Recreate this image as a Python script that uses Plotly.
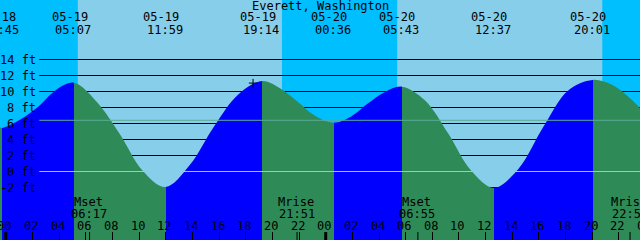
import plotly.graph_objects as go

# ---------------- data ----------------
title = "Everett, Washington"

# tide extremes (label date, label time, height in ft, kind)
tide_dates = ["05-18", "05-19", "05-19", "05-19", "05-20", "05-20", "05-20", "05-20"]
tide_times = ["23:45", "05:07", "11:59", "19:14", "00:36", "05:43", "12:37", "20:01"]
tide_feet = [5.45, 11.1, -1.95, 11.3, 6.1, 10.6, -2.05, 11.45]
tide_kind = ["low", "high", "low", "high", "low", "high", "low", "high"]

# tide curve readings: hours after 05-19 00:00 and height in ft
curve_hours = [-0.45, -0.25, 1.09, 2.43, 3.77, 5.117,
               6.83, 8.55, 10.27, 11.983,
               13.8, 15.61, 17.42, 19.233,
               20.57, 21.92, 23.26, 24.6,
               25.88, 27.16, 28.44, 29.717,
               31.44, 33.17, 34.89, 36.617,
               38.47, 40.32, 42.17, 44.017,
               45.4, 46.6, 47.6]
curve_feet = [5.5, 5.45, 6.5, 8.1, 10.2, 11.1,
              8.7, 4.7, 0.1, -1.95,
              0.8, 5.6, 9.6, 11.3,
              10.4, 8.7, 6.9, 6.1,
              6.85, 8.5, 9.95, 10.6,
              8.9, 4.8, 0.15, -2.05,
              0.35, 5.55, 10.1, 11.45,
              10.9, 9.5, 7.9]

# moon events
moon_dates = ["05-19", "05-19", "05-20", "05-20"]
moon_times = ["06:17", "21:51", "06:55", "22:50"]
moon_events = ["Mset", "Mrise", "Mset", "Mrise"]

# sun (daylight intervals)
sunrise_dates = ["05-19", "05-20"]
sunrise_times = ["05:24", "05:22"]
sunset_dates = ["05-19", "05-20"]
sunset_times = ["20:43", "20:45"]

# "now" marker
now_date, now_time, now_feet = "05-19", "18:33", 11.05

# axis
grid_feet = [14, 12, 10, 8, 6, 4, 2, -2]
label_feet = [14, 12, 10, 8, 6, 4, 2, 0, -2]
datum_feet = 0.0
msl_feet = 6.4
hour_ticks = list(range(0, 50, 2))
hour_labels = ["%02d" % (h % 24) for h in hour_ticks]
midnights = [0, 24]

x_range = [-0.435, 47.58]
y_range = [-8.5625, 21.4375]

# ---------------- styles ----------------
night_sky = "#00BFFF"
day_sky = "#87CEEB"
rise_col = "#0000FF"
fall_col = "#2E8B57"
msl_col = "#5AAA96"
datum_col = "#87CEEB"
font = dict(family="DejaVu Sans Mono", size=12, color="black")
W, H = 640, 240
grid_x0 = 39.3 / W


def to_hours(d, t):
    day = int(d.split("-")[1]) - 19
    hh, mm = t.split(":")
    return day * 24 + int(hh) + int(mm) / 60.0


def xpaper(h):
    return (h - x_range[0]) / (x_range[1] - x_range[0])


tide_hours = [to_hours(d, t) for d, t in zip(tide_dates, tide_times)]
moon_hours = [to_hours(d, t) for d, t in zip(moon_dates, moon_times)]
sunrise_hours = [to_hours(d, t) for d, t in zip(sunrise_dates, sunrise_times)]
sunset_hours = [to_hours(d, t) for d, t in zip(sunset_dates, sunset_times)]
now_hours = to_hours(now_date, now_time)

# rising/falling gradient
g0, g1 = curve_hours[0], curve_hours[-1]
scale = [[0.0, fall_col if tide_kind[0] == "low" else rise_col]]
after = scale[0][1]
for t, k in zip(tide_hours, tide_kind):
    before = fall_col if k == "low" else rise_col
    after = rise_col if k == "low" else fall_col
    p = (t - g0) / (g1 - g0)
    if 0 < p < 1:
        scale.append([p, before])
        scale.append([p, after])
scale.append([1.0, after])

fig = go.Figure()
fig.add_trace(go.Scatter(x=[g0, g1], y=[-20, -20], mode="lines",
                         line=dict(width=0), hoverinfo="skip"))
fig.add_trace(go.Scatter(x=curve_hours, y=curve_feet, mode="lines",
                         line=dict(width=0, shape="spline", smoothing=1.0, color=rise_col),
                         fill="tonexty", fillcolor=rise_col,
                         fillgradient=dict(type="horizontal", colorscale=scale,
                                           start=g0, stop=g1),
                         hoverinfo="skip"))
fig.add_trace(go.Scatter(x=[now_hours], y=[now_feet], mode="markers",
                         marker=dict(symbol="cross-thin", size=6,
                                     line=dict(color="black", width=1)),
                         hoverinfo="skip"))

shapes = []
for a, b in zip(sunrise_hours, sunset_hours):
    shapes.append(dict(type="rect", xref="x", yref="paper", x0=a, x1=b, y0=0, y1=1,
                       fillcolor=day_sky, line=dict(width=0), layer="below"))
for f in grid_feet:
    shapes.append(dict(type="line", xref="paper", yref="y", x0=grid_x0, x1=1, y0=f, y1=f,
                       line=dict(color="black", width=1), layer="between"))
shapes.append(dict(type="line", xref="paper", yref="y", x0=grid_x0, x1=1,
                   y0=msl_feet, y1=msl_feet, line=dict(color=msl_col, width=1), layer="above"))
shapes.append(dict(type="line", xref="paper", yref="y", x0=grid_x0, x1=1,
                   y0=datum_feet, y1=datum_feet, line=dict(color=datum_col, width=1), layer="above"))
for m in midnights:
    shapes.append(dict(type="line", xref="x", yref="paper", x0=m, x1=m, y0=0, y1=8 / H,
                       line=dict(color="black", width=3), layer="above"))
for m in moon_hours:
    shapes.append(dict(type="line", xref="x", yref="paper", x0=m, x1=m, y0=0, y1=8 / H,
                       line=dict(color="black", width=1), layer="above"))

ann = []


def add(x, ypx, text, xref="paper", xanchor="center", xshift=0, yref="paper"):
    ann.append(dict(x=x, y=ypx, xref=xref, yref=yref, text=text, showarrow=False,
                    font=font, xanchor=xanchor, yanchor="middle", xshift=xshift))


add(0.5, 1 - 6 / H, title)
for t, d, s in zip(tide_hours, tide_dates, tide_times):
    add(t, 1 - 17.2 / H, d, xref="x", xshift=-4.5)
    add(t, 1 - 29.5 / H, s, xref="x", xshift=-1)
for t, e, s in zip(moon_hours, moon_events, moon_times):
    add(t, 1 - 202.2 / H, e, xref="x", xshift=-1)
    add(t, 1 - 213.8 / H, s, xref="x", xshift=-0.5)
for h, lab in zip(hour_ticks, hour_labels):
    add(xpaper(h), 1 - 225.5 / H, lab, xshift=-1.5)
for f in label_feet:
    add(37.5 / W, f, "%d ft" % f, xanchor="right", yref="y")

fig.update_layout(
    width=W, height=H, margin=dict(l=0, r=0, t=0, b=0),
    paper_bgcolor=night_sky, plot_bgcolor=night_sky, showlegend=False,
    xaxis=dict(range=x_range, showgrid=False, zeroline=False, showticklabels=False,
               ticks="inside", ticklen=8, tickwidth=1, tickcolor="black",
               tickvals=hour_ticks, showline=False, fixedrange=True),
    yaxis=dict(range=y_range, showgrid=False, zeroline=False, showticklabels=False,
               ticks="", showline=False, fixedrange=True),
    shapes=shapes, annotations=ann,
)
fig.write_html("out.html", config={"displayModeBar": False})
